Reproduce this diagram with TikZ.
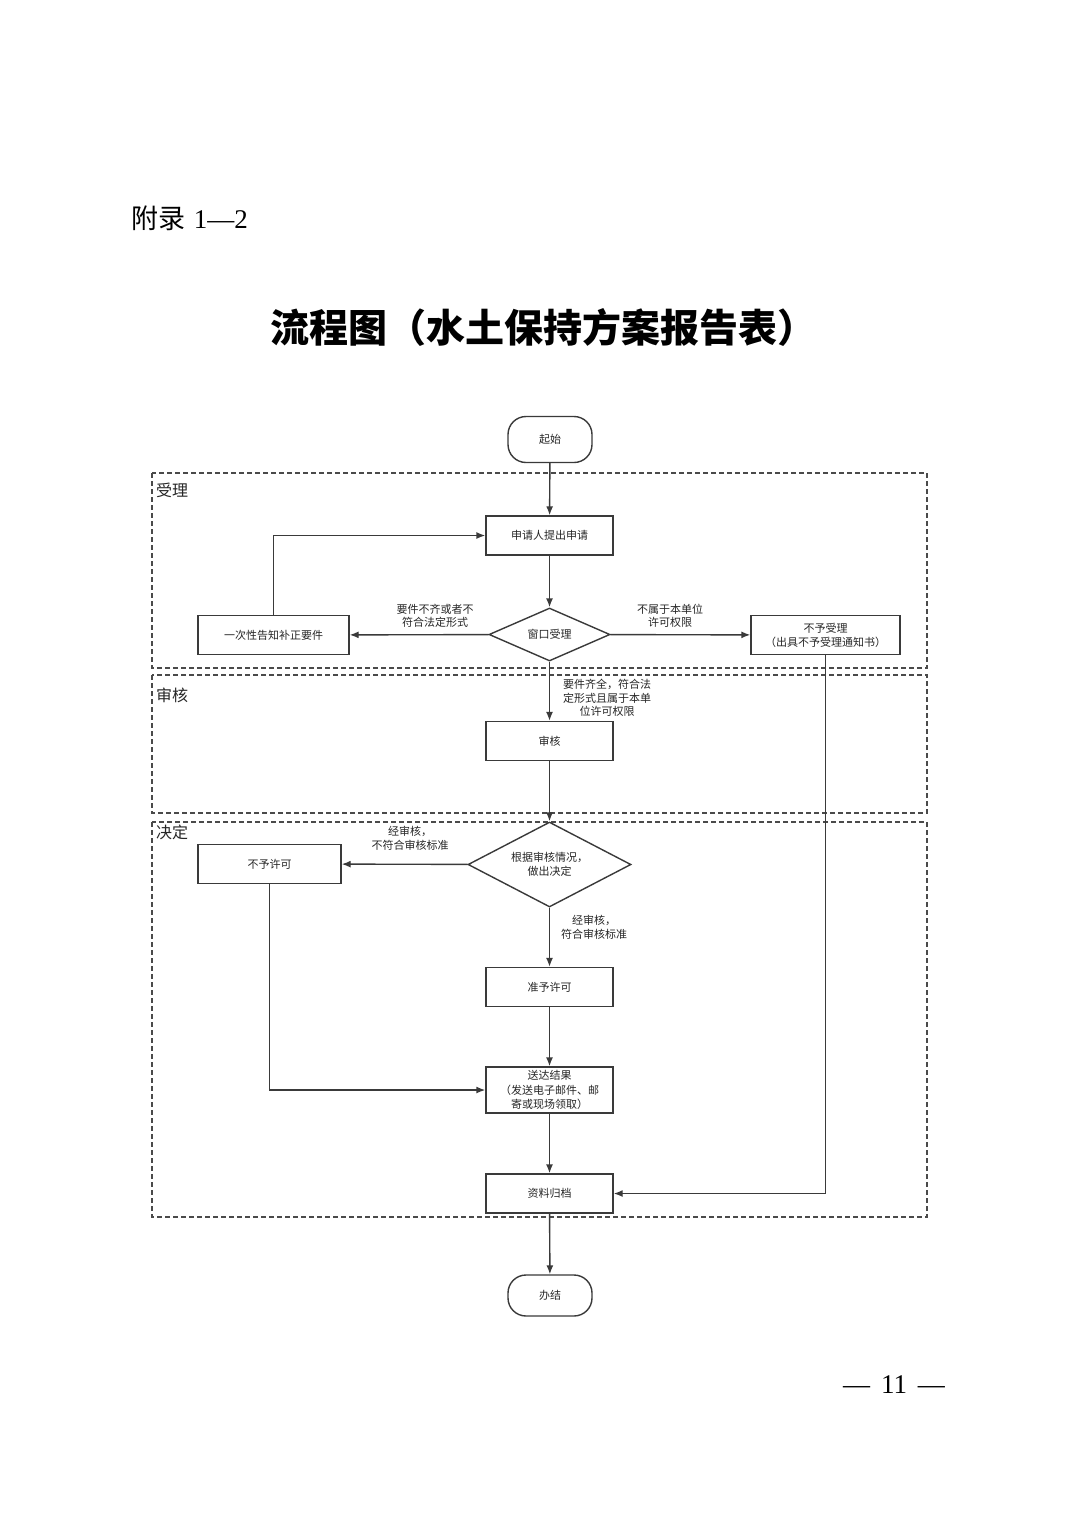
\documentclass[tikz,border=0pt]{standalone}
\usepackage{fontspec}
\setmainfont{Liberation Serif}
\newfontfamily\cjk{Noto Sans CJK SC}
\usetikzlibrary{arrows.meta,shapes.geometric}
\definecolor{linec}{HTML}{3A3A3A}
\definecolor{dashc}{HTML}{4A4A4A}
\begin{document}
\begin{tikzpicture}[x=1pt,y=-1pt,
  box/.style={draw=linec,line width=1.4pt,minimum width=127pt,minimum height=39pt,inner sep=1pt,
    font=\cjk\fontsize{11}{14}\selectfont,align=center,text=black!85},
  term/.style={draw=linec,line width=1.4pt,rounded corners=18pt,minimum width=84pt,minimum height=46pt,
    font=\cjk\fontsize{11}{14}\selectfont,text=black!85},
  dia/.style={draw=linec,line width=1.4pt,shape=diamond,aspect=2,inner sep=0pt,
    font=\cjk\fontsize{11}{14}\selectfont,align=center,text=black!85},
  lbl/.style={font=\cjk\fontsize{11}{13.5}\selectfont,align=center,text=black!85,inner sep=0pt},
  sect/.style={font=\cjk\fontsize{16}{18}\selectfont,anchor=west,inner sep=0pt,text=black!85},
  arr/.style={draw=linec,line width=1.4pt,-{Latex[length=9pt,width=7pt]}},
  dashbox/.style={draw=dashc,line width=1.3pt,dash pattern=on 5pt off 3pt}]
\useasboundingbox[fill=white] (0,0) rectangle (1074,1520);

% header
\node[anchor=west,inner sep=0pt] (hdr) at (131,218) {\fontsize{27}{30}\selectfont{\cjk 附录}\hspace{2pt} 1—2};
\node[inner sep=0pt] (title) at (543,328) {\cjk\bfseries\fontsize{39}{44}\selectfont 流程图（水土保持方案报告表）};
\node[inner sep=0pt] (pg) at (894,1385) {\fontsize{27}{30}\selectfont —\hspace{11pt}11\hspace{11pt}—};

% section frames
\draw[dashbox] (152,473) rectangle (927,668);
\draw[dashbox] (152,675) rectangle (927,813);
\draw[dashbox] (152,822) rectangle (927,1217);
\node[sect] (s1) at (156,490) {受理};
\node[sect] (s2) at (156,695) {审核};
\node[sect] (s3) at (156,832) {决定};

% nodes
\node[term] (start) at (550,439.5) {起始};
\node[box] (apply) at (549.5,535.5) {申请人提出申请};
\node[dia,minimum width=121pt,minimum height=53pt] (window) at (549.5,634.5) {窗口受理};
\node[box,minimum width=151pt] (notify) at (273.5,635) {一次性告知补正要件};
\node[box,minimum width=149pt] (reject) at (825.5,635) {不予受理\\（出具不予受理通知书）};
\node[box] (review) at (549.5,741) {审核};
\node[dia,minimum width=163pt,minimum height=85pt] (decide) at (549.5,864.5) {根据审核情况，\\做出决定};
\node[box,minimum width=143pt] (deny) at (269.5,864) {不予许可};
\node[box] (grant) at (549.5,987) {准予许可};
\node[box,minimum height=46pt,font=\cjk\fontsize{11}{14.5}\selectfont] (deliver) at (549.5,1090) {送达结果\\（发送电子邮件、邮\\寄或现场领取）};
\node[box] (archive) at (549.5,1193.5) {资料归档};
\node[term,minimum height=41pt] (end) at (550,1295.5) {办结};

% labels
\node[lbl] (l1) at (435,616) {要件不齐或者不\\符合法定形式};
\node[lbl] (l2) at (670,616) {不属于本单位\\许可权限};
\node[lbl] (l3) at (607,698) {要件齐全，符合法\\定形式且属于本单\\位许可权限};
\node[lbl] (l4) at (410,838.5) {经审核，\\不符合审核标准};
\node[lbl] (l5) at (594,927.5) {经审核，\\符合审核标准};

% connectors
\draw[arr] (start) -- (apply);
\draw[arr] (apply) -- (window);
\draw[arr] (window) -- (notify);
\draw[arr] (window) -- (reject);
\draw[arr] (notify.north) |- (apply.west);
\draw[arr] (window) -- (review);
\draw[arr] (review) -- (decide);
\draw[arr] (decide) -- (deny);
\draw[arr] (decide) -- (grant);
\draw[arr] (grant) -- (deliver);
\draw[arr] (deny.south) |- (deliver.west);
\draw[arr] (deliver) -- (archive);
\draw[arr] (reject.south) |- (archive.east);
\draw[arr] (archive) -- (end);
\end{tikzpicture}
\end{document}
